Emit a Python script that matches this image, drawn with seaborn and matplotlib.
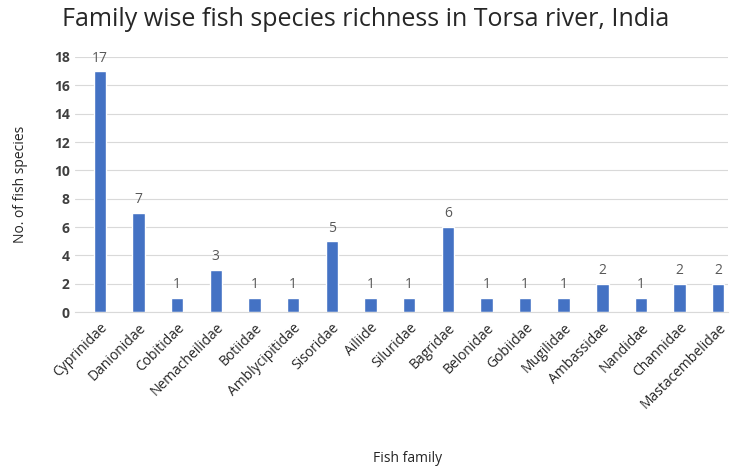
import numpy as np
import pandas as pd
import seaborn as sns
import matplotlib.pyplot as plt

# ---- data ----
families = ["Cyprinidae", "Danionidae", "Cobitidae", "Nemacheilidae", "Botiidae",
            "Amblycipitidae", "Sisoridae", "Ailiide", "Siluridae", "Bagridae",
            "Belonidae", "Gobiidae", "Mugilidae", "Ambassidae", "Nandidae",
            "Channidae", "Mastacembelidae"]
species = [17, 7, 1, 3, 1, 1, 5, 1, 1, 6, 1, 1, 1, 2, 1, 2, 2]
yticks = [0, 2, 4, 6, 8, 10, 12, 14, 16, 18]

df = pd.DataFrame({"family": families, "species": species})

sns.set_style("white")
plt.rcParams['font.family'] = ['Open Sans', 'DejaVu Sans']
grey = "#595959"

fig = plt.figure(figsize=(7.32, 4.75), dpi=100)
ax = fig.add_axes([0.102, 0.343, 0.893, 0.537])

sns.barplot(data=df, x="family", y="species", color="#4472C4",
            width=0.32, saturation=1, ax=ax)

# value labels
for i, v in enumerate(species):
    ax.text(i, v + 0.4, str(v), ha="center", va="bottom", fontsize=10, color=grey)

ax.set_xlim(-0.65, 16.26)
ax.set_ylim(0, 18)
ax.set_yticks(yticks)
ax.set_yticklabels([str(t) for t in yticks], fontweight="bold", fontsize=10, color="#404040")
ax.yaxis.grid(True, color="#d9d9d9", linewidth=0.8)
ax.set_axisbelow(True)
ax.tick_params(axis="both", length=0)
ax.tick_params(axis="x", pad=6)
plt.setp(ax.get_xticklabels(), rotation=45, ha="right", rotation_mode="anchor",
         fontsize=10, color="#262626")

for s in ["top", "right", "left"]:
    ax.spines[s].set_visible(False)
ax.spines["bottom"].set_color("#d9d9d9")

ax.set_xlabel("Fish family", fontsize=10, color="#262626")
ax.xaxis.set_label_coords(0.51, -0.545)
ax.set_ylabel("No. of fish species", fontsize=10, color="#262626")
ax.yaxis.set_label_coords(-0.072, 0.5)
fig.suptitle("Family wise fish species richness in Torsa river, India",
             fontsize=18, color="#262626", y=0.985)

fig.savefig("out.png", dpi=100)
